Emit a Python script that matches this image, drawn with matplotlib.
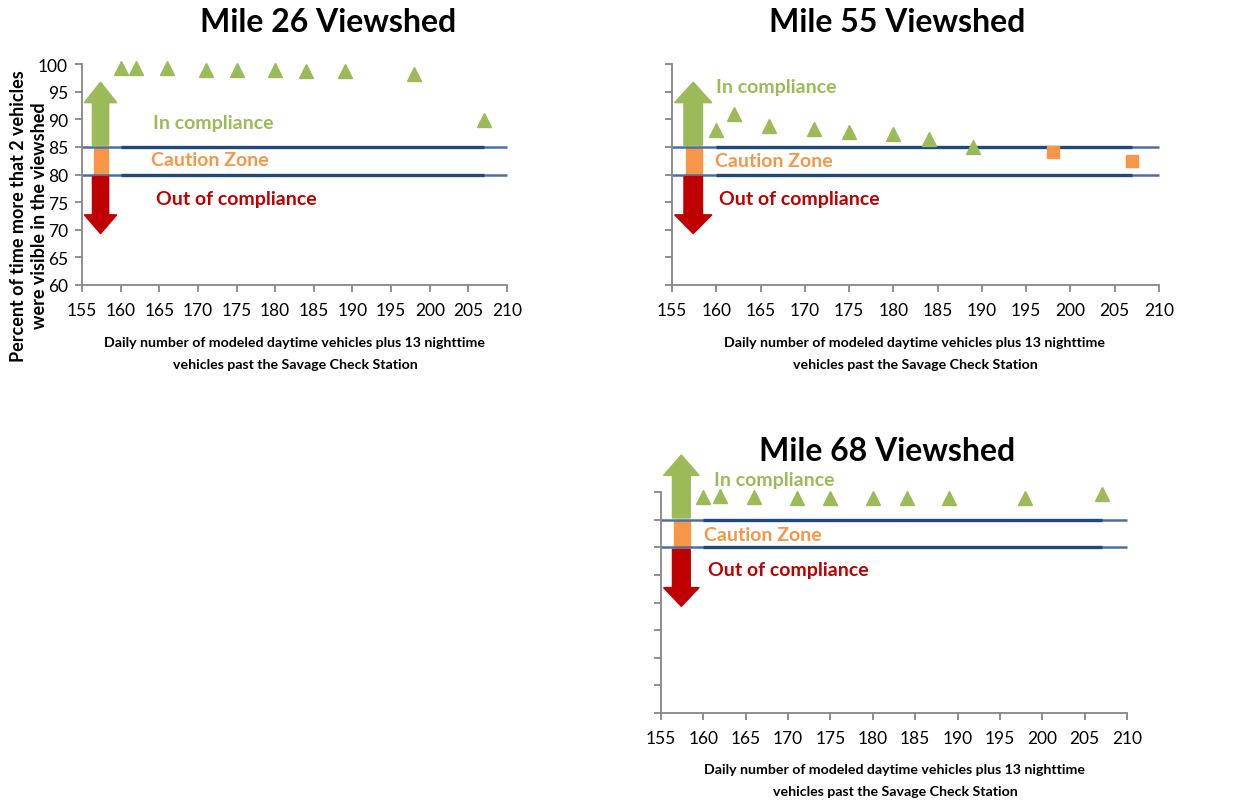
import matplotlib
matplotlib.use("Agg")
import matplotlib.pyplot as plt
from matplotlib.patches import Polygon, Rectangle

plt.rcParams['font.family'] = ['Lato', 'DejaVu Sans']

# ---- data ----
vehicles = [160, 162, 166, 171, 175, 180, 184, 189, 198, 207]
mile26 = [99.3, 99.3, 99.3, 99.0, 99.0, 98.9, 98.7, 98.7, 98.2, 89.9]
mile55 = [88.1, 90.9, 88.7, 88.2, 87.7, 87.3, 86.5, 85.0, 84.1, 82.5]
mile68 = [89.1, 89.3, 89.1, 89.0, 89.0, 89.0, 89.0, 89.0, 89.0, 89.7]
titles = ["Mile 26 Viewshed", "Mile 55 Viewshed", "Mile 68 Viewshed"]
x_ticks = [155, 160, 165, 170, 175, 180, 185, 190, 195, 200, 205, 210]
upper_limit = 85
lower_limit = 80
xlabel = "Daily number of modeled daytime vehicles plus 13 nighttime\nvehicles past the Savage Check Station"
ylabel = "Percent of time more that 2 vehicles\nwere visible in the viewshed"

GREEN = "#9BBB59"
ORANGE = "#F79646"
RED = "#C00000"
DARKBLUE = "#1F497D"
LIGHTBLUE = "#4A6FA5"
GRAY = "#868686"

W, H = 1234, 804
fig = plt.figure(figsize=(W / 100, H / 100), dpi=100)


def px_axes(l, t, r, b):
    return fig.add_axes([l / W, 1 - b / H, (r - l) / W, (b - t) / H])


def draw(ax, values, ylim, show_ylabels, text_pos):
    ax.set_xlim(155, 210)
    ax.set_ylim(*ylim)
    ax.set_xticks(x_ticks)
    yt = list(range(ylim[0], ylim[1] + 1, 5))
    ax.set_yticks(yt)
    if not show_ylabels:
        ax.set_yticklabels([])
    for s in ['top', 'right']:
        ax.spines[s].set_visible(False)
    for s in ['left', 'bottom']:
        ax.spines[s].set_color(GRAY)
        ax.spines[s].set_linewidth(1.3)
    ax.tick_params(axis='both', colors=GRAY, length=5, width=1.3,
                   labelcolor='black', labelsize=12.5)
    ax.tick_params(axis='y', pad=5)
    ax.tick_params(axis='x', pad=7)

    # limit lines
    for yv in (upper_limit, lower_limit):
        ax.plot([155, 210], [yv, yv], color=LIGHTBLUE, lw=1.8, zorder=2,
                solid_capstyle='butt', clip_on=False)
        ax.plot([vehicles[0], vehicles[-1]], [yv, yv], color=DARKBLUE, lw=2.4,
                zorder=2.1, solid_capstyle='butt')

    # arrows / caution box
    cx = 157.4
    ax.add_patch(Rectangle((156.55, lower_limit), 1.85, upper_limit - lower_limit,
                           color=ORANGE, zorder=1.5, clip_on=False))
    up = [(156.35, upper_limit + 0.3), (156.35, 93.0), (155.3, 93.0), (cx, 96.7),
          (159.5, 93.0), (158.45, 93.0), (158.45, upper_limit + 0.3)]
    ax.add_patch(Polygon(up, closed=True, color=GREEN, zorder=3, clip_on=False))
    dn = [(156.35, lower_limit - 0.4), (156.35, 72.7), (155.3, 72.7), (cx, 69.3),
          (159.5, 72.7), (158.45, 72.7), (158.45, lower_limit - 0.4)]
    ax.add_patch(Polygon(dn, closed=True, color=RED, zorder=3, clip_on=False))

    (tx1, ty1), (tx2, ty2), (tx3, ty3) = text_pos
    ax.text(tx1, ty1, "In compliance", color=GREEN, fontsize=14, fontweight='bold',
            ha='left', va='center')
    ax.text(tx2, ty2, "Caution Zone", color=ORANGE, fontsize=14, fontweight='bold',
            ha='left', va='center')
    ax.text(tx3, ty3, "Out of compliance", color=RED, fontsize=14, fontweight='bold',
            ha='left', va='center')

    # points
    tri_x = [x for x, v in zip(vehicles, values) if v >= upper_limit]
    tri_y = [v for v in values if v >= upper_limit]
    sq_x = [x for x, v in zip(vehicles, values) if v < upper_limit]
    sq_y = [v for v in values if v < upper_limit]
    ax.plot(tri_x, tri_y, linestyle='none', marker='^', ms=10, color=GREEN,
            zorder=4, clip_on=False)
    ax.plot(sq_x, sq_y, linestyle='none', marker='s', ms=8.5, color=ORANGE,
            zorder=4, clip_on=False)


ax1 = px_axes(82, 65, 507, 286)
draw(ax1, mile26, (60, 100), True, [(164.2, 89.5), (163.9, 82.7), (164.6, 75.6)])
ax2 = px_axes(672, 65, 1159, 286)
draw(ax2, mile55, (60, 100), False, [(160.0, 96.0), (159.9, 82.6), (160.3, 75.6)])
ax3 = px_axes(661, 493, 1127, 714)
draw(ax3, mile68, (50, 90), False, [(161.25, 92.3), (160.1, 82.3), (160.5, 76.0)])

# titles
for (x, y), t in zip([(328, 22), (897, 22), (887, 452)], titles):
    fig.text(x / W, 1 - y / H, t, fontsize=23, fontweight='bold', ha='center', va='center')

# x labels
for (x, y) in [(295, 354), (915, 354), (895, 781)]:
    fig.text(x / W, 1 - y / H, xlabel, fontsize=10.2, fontweight='bold', ha='center',
             va='center', multialignment='center', linespacing=1.95)

# y label
fig.text(29 / W, 1 - 216 / H, ylabel, fontsize=13, fontweight='bold', rotation=90,
         ha='center', va='center', multialignment='center', linespacing=1.35)

fig.savefig("out.png", dpi=100)
